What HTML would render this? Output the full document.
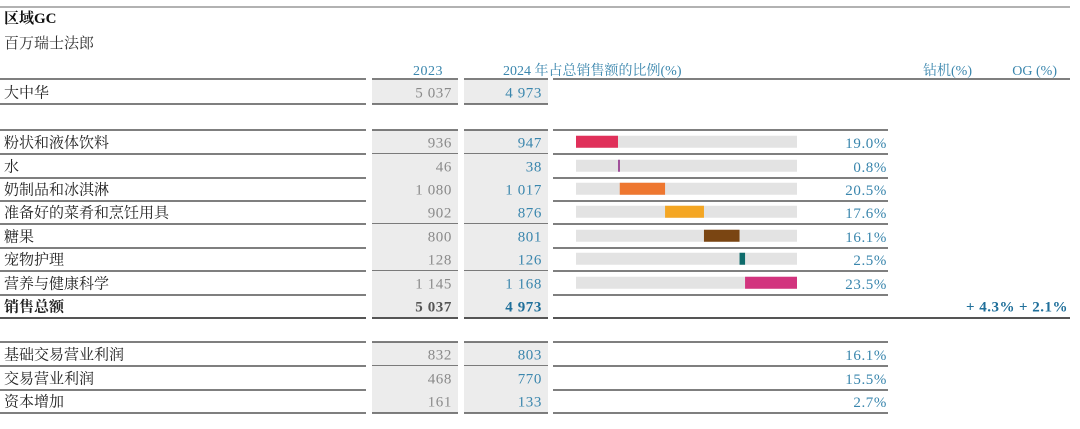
<!DOCTYPE html>
<html><head><meta charset="utf-8"><style>
body{margin:0;background:#fff;}
svg{display:block;font-family:"Liberation Serif","Noto Serif CJK SC",serif;}
</style></head><body>
<svg id="c" width="1080" height="429" viewBox="0 0 1080 429">
<line x1="0" y1="7" x2="1070" y2="7" stroke="#666" stroke-width="1"/>
<text x="4" y="23" font-size="15" font-weight="bold" fill="#111">区域GC</text>
<text x="4" y="48" font-size="15" fill="#333">百万瑞士法郎</text>
<text x="443" y="75" font-size="14" fill="#3a86ad" text-anchor="end" letter-spacing="0.5">2023</text>
<text x="503" y="75" font-size="14" fill="#3a86ad">2024 年占总销售额的比例(%)</text>
<text x="972" y="75" font-size="14" fill="#3a86ad" text-anchor="end">钻机(%)</text>
<text x="1057" y="75" font-size="14" fill="#3a86ad" text-anchor="end">OG (%)</text>
<g id="g"></g>
</svg>
<script>
const rows=["大中华","","粉状和液体饮料","水","奶制品和冰淇淋","准备好的菜肴和烹饪用具","糖果","宠物护理","营养与健康科学","销售总额","","基础交易营业利润","交易营业利润","资本增加"];
const v2023=["5 037","","936","46","1 080","902","800","128","1 145","5 037","","832","468","161"];
const v2024=["4 973","","947","38","1 017","876","801","126","1 168","4 973","","803","770","133"];
const shares=[null,null,19.0,0.8,20.5,17.6,16.1,2.5,23.5,null,null,16.1,15.5,2.7];
const barColors=[null,null,"#e0305a","#a0509a","#ee7730","#f4a623","#7a4512","#0e6b6b","#d2347e"];
const totalRig="+ 4.3%";
const totalOG="+ 2.1%";
const g=document.getElementById('g');
const NS="http://www.w3.org/2000/svg";
function mk(t,a,p){const e=document.createElementNS(NS,t);for(const k in a)e.setAttribute(k,a[k]);(p||g).appendChild(e);return e;}
const rowTops=[80,106,130,154,177,200,224,247,271,294,318,342,366,389];
const rh=23.5;
const trackX=576,trackW=221;
function xs(p){return trackW*p/100;}
let cum=0;
[[0,366],[372,458],[464,548],[553,1070]].forEach(s=>{const l=mk('line',{x1:s[0],x2:s[1],y1:79,y2:79,stroke:'#555','stroke-width':1.5});

});
rows.forEach((r,i)=>{
 if(r==="")return;
 const y=rowTops[i],cy=y+rh/2,bold=(r==="销售总额");
 const bg1=mk('rect',{x:372,y:y,width:86,height:rh+1,fill:'#ececec'});
 
 
 const bg2=mk('rect',{x:464,y:y,width:84,height:rh+1,fill:'#ececec'});
 
 
 const t=mk('text',{x:4,y:cy+5.5,'font-size':15,fill:'#222','font-weight':bold?'bold':'normal'});t.textContent=r;
 
 
 const a=mk('text',{x:452,y:cy+5.5,'font-size':15,'letter-spacing':0.6,fill:bold?'#555':'#8a8a8a','text-anchor':'end','font-weight':bold?'bold':'normal'});a.textContent=v2023[i];
 
 
 const b=mk('text',{x:542,y:cy+5.5,'font-size':15,'letter-spacing':0.6,fill:bold?'#1f6f9a':'#3a86ad','text-anchor':'end','font-weight':bold?'bold':'normal'});b.textContent=v2024[i];
 
 
 const by=y+rh+0.5;
 const rightEnd=(i===0)?548:(bold?1070:888);
 [[0,366],[372,458],[464,548],[553,rightEnd]].forEach(s=>{if(s[0]>=s[1])return;const l=mk('line',{x1:s[0],x2:s[1],y1:by,y2:by,stroke:'#555','stroke-width':bold?2:1.5});
 
 });
 if(i>=2&&i<=8){
  const tr=mk('rect',{x:trackX,y:cy-6,width:trackW,height:12,fill:'#e3e3e3'});
  
  
  const seg=mk('rect',{x:trackX+xs(cum),y:cy-6,width:Math.max(xs(shares[i]),2),height:12,fill:barColors[i]});
  
  
  cum+=shares[i];
 }
 if(shares[i]!==null){
  const p=mk('text',{x:887,y:cy+6,'font-size':15,'letter-spacing':0.6,fill:'#3a86ad','text-anchor':'end'});p.textContent=shares[i].toFixed(1)+"%";
  
  
 }
 if(bold){
  const r1=mk('text',{x:1015,y:cy+5.5,'font-size':15,'letter-spacing':0.5,fill:'#1f6f9a','text-anchor':'end','font-weight':'bold'});r1.textContent=totalRig;
  
  
  const r2=mk('text',{x:1068,y:cy+5.5,'font-size':15,'letter-spacing':0.5,fill:'#1f6f9a','text-anchor':'end','font-weight':'bold'});r2.textContent=totalOG;
  
  
 }
});
[130,342].forEach(y=>{[[0,366],[372,458],[464,548],[553,888]].forEach(s=>{const l=mk('line',{x1:s[0],x2:s[1],y1:y,y2:y,stroke:'#555','stroke-width':1.5});

});});
</script>
</body></html>
